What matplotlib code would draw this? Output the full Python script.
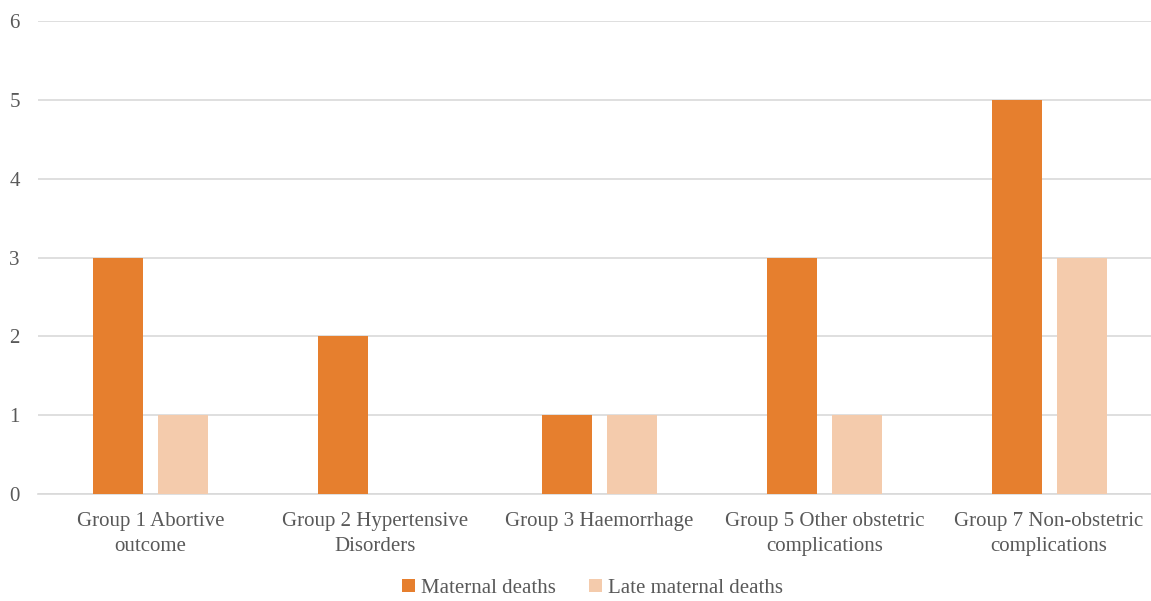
import numpy as np
import matplotlib.pyplot as plt

plt.rcParams['font.family'] = ['Liberation Serif', 'DejaVu Serif']

# Deaths by cause group
categories = [
    "Group 1 Abortive\noutcome",
    "Group 2 Hypertensive\nDisorders",
    "Group 3 Haemorrhage",
    "Group 5 Other obstetric\ncomplications",
    "Group 7 Non-obstetric\ncomplications",
]
maternal_deaths = [3, 2, 1, 3, 5]
late_maternal_deaths = [1, 0, 1, 1, 3]

ORANGE = "#E67F2E"
PEACH = "#F4CBAC"
TEXT = "#595959"
GRID = "#D9D9D9"
FS = 15

fig = plt.figure(figsize=(11.51, 6.01), dpi=100)
# plot area runs slightly past the right edge of the canvas
ax = fig.add_axes([0.033, 0.178, 0.976, 0.787])

x = np.arange(len(categories))
width = 0.2225
ax.bar(x - 0.1446, maternal_deaths, width, color=ORANGE, label="Maternal deaths", zorder=3)
ax.bar(x + 0.1446, late_maternal_deaths, width, color=PEACH, label="Late maternal deaths", zorder=3)

ax.set_xlim(-0.5, len(categories) - 0.5)
ax.set_ylim(0, 6)
ax.set_yticks(range(0, 7))
ax.set_xticks(x)
ax.set_xticklabels(categories, fontsize=FS, color=TEXT, linespacing=1.4)
ax.tick_params(axis='y', labelsize=FS, labelcolor=TEXT, length=0, pad=13)
ax.tick_params(axis='x', length=0, pad=13)

ax.yaxis.grid(True, color=GRID, linewidth=1.2)
ax.set_axisbelow(True)
for side in ["top", "right", "left"]:
    ax.spines[side].set_visible(False)
ax.spines["bottom"].set_color(GRID)
ax.spines["bottom"].set_linewidth(1.2)

leg = fig.legend(loc="center", bbox_to_anchor=(0.515, 0.021), ncol=2, frameon=False,
                 fontsize=FS, handlelength=0.6, handleheight=0.6, handletextpad=0.3,
                 columnspacing=1.6, borderpad=0.0)
for t in leg.get_texts():
    t.set_color(TEXT)

fig.savefig("out.png", dpi=100)
